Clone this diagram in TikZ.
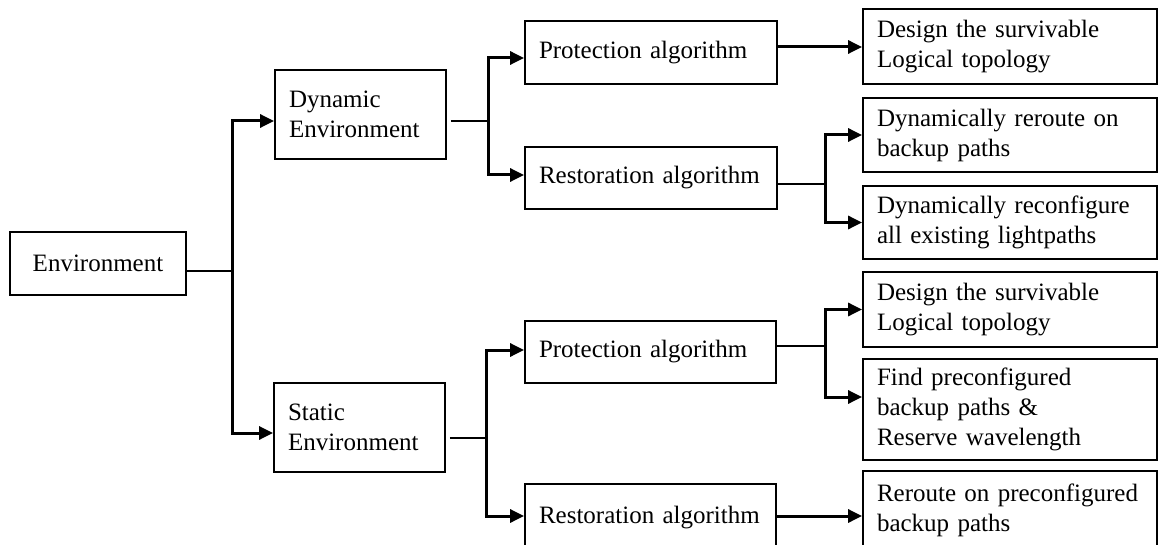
\documentclass[tikz,border=0pt]{standalone}
\usepackage{fontspec}
\setmainfont{Liberation Serif}
\usetikzlibrary{arrows.meta}
\begin{document}
\begin{tikzpicture}[x=1pt,y=-1pt,
  box/.style={draw, line width=1.8pt, inner xsep=14pt, inner ysep=0pt,
    align=left, anchor=center, font=\fontsize{25}{30}\selectfont},
  link/.style={line width=1.5pt},
  feed/.style={line width=3pt, -{Triangle[length=14pt,width=13pt]}},
]
% page frame
\fill[white] (0,0) rectangle (1158,545);
\useasboundingbox (0,0) rectangle (1158,545);
\clip (0,0) rectangle (1158,545);

% root
\node[box, align=center, text width=148pt, minimum height=63pt] (env) at (98,263.5) {Environment};

% environments
\node[box, text width=143pt, minimum height=89pt] (dyn)  at (360.5,114.5) {Dynamic\\Environment};
\node[box, text width=143pt, minimum height=89pt] (stat) at (359.5,427.5) {Static\\Environment};

% algorithms
\node[box, text width=224pt, minimum height=63pt] (prot1) at (651,52.5) {Protection algorithm};
\node[box, text width=224pt, minimum height=62pt] (rest1) at (651,178) {Restoration algorithm};
\node[box, text width=223pt, minimum height=62pt] (prot2) at (650.5,352) {Protection algorithm};
\node[box, text width=223pt, minimum height=68pt] (rest2) at (650.5,518) {Restoration algorithm};

% actions
\node[box, text width=266pt, minimum height=75pt]  (design1)  at (1010,46.5)  {Design the survivable\\Logical topology};
\node[box, text width=266pt, minimum height=74pt]  (reroute1) at (1010,135)   {Dynamically reroute on\\backup paths};
\node[box, text width=266pt, minimum height=73pt]  (reconf1)  at (1010,222.5) {Dynamically reconfigure\\all existing lightpaths};
\node[box, text width=266pt, minimum height=75pt]  (design2)  at (1010,309.5) {Design the survivable\\Logical topology};
\node[box, text width=266pt, minimum height=101pt] (find)     at (1010,409.5) {Find preconfigured\\backup paths \&\\Reserve wavelength};
\node[box, text width=266pt, minimum height=78pt]  (reroute2) at (1010,510)   {Reroute on preconfigured\\backup paths};

% branch points
\coordinate (j0) at (232,271);
\coordinate (j1) at (488,121);
\coordinate (j2) at (486,438);
\coordinate (j3) at (825,184);
\coordinate (j4) at (825,346);

% root to environments
\draw[link] ([yshift=-7.5pt]env.east) -- (j0);
\draw[feed] (j0) |- ([yshift=-6.5pt]dyn.west);
\draw[feed] (j0) |- ([yshift=-5.5pt]stat.west);

% dynamic environment
\draw[link] ([xshift=4pt,yshift=-6.5pt]dyn.east) -- (j1);
\draw[feed] (j1) |- ([yshift=-5.5pt]prot1.west);
\draw[feed] (j1) |- ([yshift=3pt]rest1.west);
\draw[feed] ([yshift=5.5pt]prot1.east) -- ([yshift=5.5pt]prot1.east -| design1.west);
\draw[link] ([yshift=-6pt]rest1.east) -- (j3);
\draw[feed] (j3) |- (reroute1.west);
\draw[feed] (j3) |- (reconf1.west);

% static environment
\draw[link] ([xshift=4pt,yshift=-10.5pt]stat.east) -- (j2);
\draw[feed] (j2) |- ([yshift=2pt]prot2.west);
\draw[feed] (j2) |- ([yshift=2pt]rest2.west);
\draw[link] ([yshift=6pt]prot2.east) -- (j4);
\draw[feed] (j4) |- (design2.west);
\draw[feed] (j4) |- ([yshift=12.5pt]find.west);
\draw[feed] ([yshift=2pt]rest2.east) -- ([yshift=2pt]rest2.east -| reroute2.west);
\end{tikzpicture}
\end{document}
